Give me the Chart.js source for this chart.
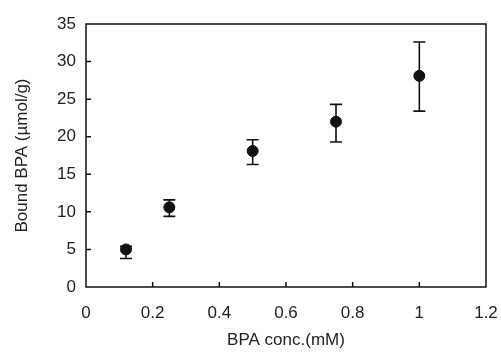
<!DOCTYPE html>
<html>
<head>
<meta charset="utf-8">
<script src="https://cdn.jsdelivr.net/npm/chart.js@4/dist/chart.umd.min.js"></script>
<style>
  html, body { margin: 0; padding: 0; background: #fff; }
  #wrap { width: 501px; height: 355px; }
</style>
</head>
<body>
<div id="wrap"><canvas id="myChart"></canvas></div>
<script>
// data
const conc = [0.12, 0.25, 0.5, 0.75, 1.0]
const bound = [5.0, 10.6, 18.1, 22.0, 28.1]
const errLow = [3.8, 9.4, 16.3, 19.3, 23.4]
const errHigh = [5.4, 11.6, 19.6, 24.3, 32.6]
const xTicks = [0, 0.2, 0.4, 0.6, 0.8, 1, 1.2]
const yTicks = [0, 5, 10, 15, 20, 25, 30, 35]

const ink = '#111'

// error bars, drawn under the markers
const errorBars = {
  id: 'errorBars',
  beforeDatasetsDraw (chart) {
    const { ctx, scales: { x, y } } = chart
    ctx.save()
    ctx.strokeStyle = ink
    ctx.lineWidth = 1.6
    conc.forEach((c, i) => {
      const px = x.getPixelForValue(c)
      const lo = y.getPixelForValue(errLow[i])
      const hi = y.getPixelForValue(errHigh[i])
      ctx.beginPath()
      ctx.moveTo(px, lo); ctx.lineTo(px, hi)
      ctx.moveTo(px - 6, lo); ctx.lineTo(px + 6, lo)
      ctx.moveTo(px - 6, hi); ctx.lineTo(px + 6, hi)
      ctx.stroke()
    })
    ctx.restore()
  }
}

// box around the plot and inward ticks
const frame = {
  id: 'frame',
  afterDraw (chart) {
    const { ctx, chartArea: a, scales: { x, y } } = chart
    ctx.save()
    ctx.strokeStyle = ink
    ctx.lineWidth = 1.5
    ctx.strokeRect(a.left, a.top, a.right - a.left, a.bottom - a.top)
    ctx.beginPath()
    xTicks.slice(1, -1).forEach(v => {
      const px = x.getPixelForValue(v)
      ctx.moveTo(px, a.bottom); ctx.lineTo(px, a.bottom - 5)
    })
    yTicks.slice(1, -1).forEach(v => {
      const py = y.getPixelForValue(v)
      ctx.moveTo(a.left, py); ctx.lineTo(a.left + 5, py)
    })
    ctx.stroke()
    ctx.restore()
  }
}

const font = { family: "'Liberation Sans', Arial, sans-serif", size: 17 }

new Chart(document.getElementById('myChart'), {
  type: 'scatter',
  data: {
    datasets: [{
      data: conc.map((c, i) => ({ x: c, y: bound[i] })),
      backgroundColor: ink,
      borderColor: ink,
      pointRadius: 5.5,
      pointHoverRadius: 5.5
    }]
  },
  options: {
    responsive: true,
    maintainAspectRatio: false,
    animation: false,
    layout: { padding: { top: 24, right: 15, left: 0, bottom: 0 } },
    plugins: { legend: { display: false }, tooltip: { enabled: false } },
    scales: {
      x: {
        type: 'linear',
        min: 0,
        max: 1.2,
        afterBuildTicks: s => { s.ticks = xTicks.map(v => ({ value: v })) },
        afterFit: s => { s.height = 68; s.paddingLeft = 0; s.paddingRight = 0 },
        ticks: {
          color: '#222',
          font,
          padding: 16,
          maxRotation: 0,
          callback: v => String(Math.round(v * 10) / 10)
        },
        grid: { display: false, drawTicks: false },
        border: { display: false },
        title: { display: true, text: 'BPA conc.(mM)', color: '#222', font, padding: { top: 8 } }
      },
      y: {
        min: 0,
        max: 35,
        afterBuildTicks: s => { s.ticks = yTicks.map(v => ({ value: v })) },
        afterFit: s => { s.width = 86; s.paddingTop = 0; s.paddingBottom = 0 },
        ticks: { color: '#222', font, padding: 10 },
        grid: { display: false, drawTicks: false },
        border: { display: false },
        title: { display: true, text: 'Bound BPA (µmol/g)', color: '#222', font, padding: { top: 12, bottom: 4 } }
      }
    }
  },
  plugins: [errorBars, frame]
})
</script>
</body>
</html>
